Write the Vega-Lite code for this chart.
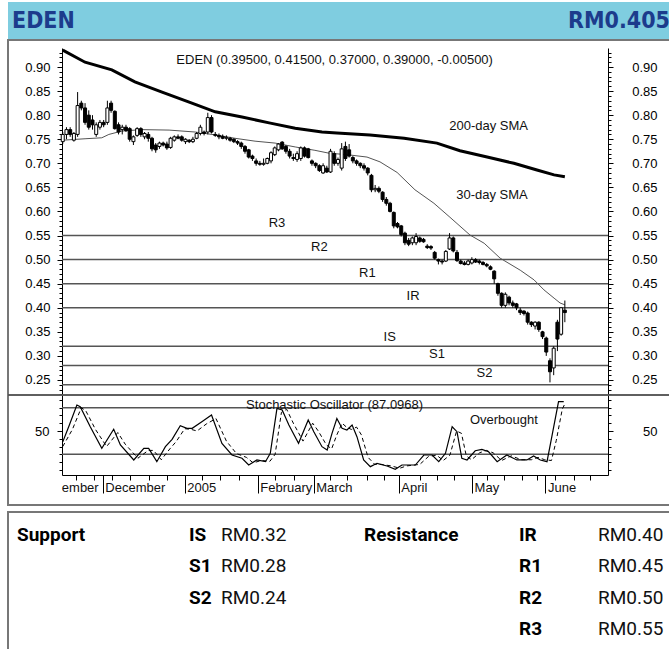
{
  "$schema": "https://vega.github.io/schema/vega-lite/v6.json",
  "padding": {"left": 6, "top": 2, "right": 0, "bottom": 0},
  "autosize": {"type": "pad"},
  "background": "white",
  "config": {"view": {"stroke": null}, "font": "Liberation Sans", "axis": {"grid": false, "title": null}},
  "datasets": {
    "header": [{"item": "stock", "label": "EDEN"}, {"item": "price", "label": "RM0.405"}],
    "levels": [
      {"side": "Support", "level": "IS", "price": "RM0.32", "value": 0.32, "rank": 0},
      {"side": "Support", "level": "S1", "price": "RM0.28", "value": 0.28, "rank": 1},
      {"side": "Support", "level": "S2", "price": "RM0.24", "value": 0.24, "rank": 2},
      {"side": "Resistance", "level": "IR", "price": "RM0.40", "value": 0.40, "rank": 0},
      {"side": "Resistance", "level": "R1", "price": "RM0.45", "value": 0.45, "rank": 1},
      {"side": "Resistance", "level": "R2", "price": "RM0.50", "value": 0.50, "rank": 2},
      {"side": "Resistance", "level": "R3", "price": "RM0.55", "value": 0.55, "rank": 3}
    ],
    "notes": [
      {"panel": "price", "note": "EDEN (0.39500, 0.41500, 0.37000, 0.39000, -0.00500)", "i": 73.1, "v": 0.9145},
      {"panel": "price", "note": "200-day SMA", "i": 114.5, "v": 0.7775},
      {"panel": "price", "note": "30-day SMA", "i": 115.4, "v": 0.635},
      {"panel": "price", "note": "R3", "i": 57.6, "v": 0.5754},
      {"panel": "price", "note": "R2", "i": 69.0, "v": 0.527},
      {"panel": "price", "note": "R1", "i": 81.9, "v": 0.4728},
      {"panel": "price", "note": "IR", "i": 94.2, "v": 0.4244},
      {"panel": "price", "note": "IS", "i": 87.9, "v": 0.340},
      {"panel": "price", "note": "S1", "i": 100.6, "v": 0.3033},
      {"panel": "price", "note": "S2", "i": 113.4, "v": 0.2639},
      {"panel": "stoch", "note": "Stochastic Oscillator (87.0968)", "i": 73.1, "v": 83.5},
      {"panel": "stoch", "note": "Overbought", "i": 118.6, "v": 64.2}
    ],
    "months": [
      {"month": "November", "start": -7.1, "end": 10.74},
      {"month": "December", "start": 10.74, "end": 32.79},
      {"month": "2005", "start": 32.79, "end": 52.42},
      {"month": "February", "start": 52.42, "end": 67.47},
      {"month": "March", "start": 67.47, "end": 90.33},
      {"month": "April", "start": 90.33, "end": 110.04},
      {"month": "May", "start": 110.04, "end": 129.75},
      {"month": "June", "start": 129.75, "end": 150}
    ],
    "stochLevels": [{"zone": "Overbought", "level": 80}, {"zone": "Oversold", "level": 20}],
    "sma200": [
      {"i": 0, "v": 0.935}, {"i": 6, "v": 0.91}, {"i": 13.2, "v": 0.894}, {"i": 19.4, "v": 0.869},
      {"i": 26.7, "v": 0.848}, {"i": 34, "v": 0.827}, {"i": 41, "v": 0.807}, {"i": 48.2, "v": 0.796},
      {"i": 55.5, "v": 0.784}, {"i": 62.5, "v": 0.773}, {"i": 69.7, "v": 0.765}, {"i": 73.7, "v": 0.763},
      {"i": 82.6, "v": 0.759}, {"i": 91.8, "v": 0.752}, {"i": 100.6, "v": 0.742}, {"i": 106.8, "v": 0.726},
      {"i": 114.1, "v": 0.713}, {"i": 121.3, "v": 0.70}, {"i": 127.5, "v": 0.686}, {"i": 132.1, "v": 0.676},
      {"i": 135, "v": 0.672}
    ],
    "sma30": [
      {"i": 0, "v": 0.748}, {"i": 6, "v": 0.751}, {"i": 10.5, "v": 0.753}, {"i": 12.4, "v": 0.76},
      {"i": 15.9, "v": 0.767}, {"i": 21.3, "v": 0.770}, {"i": 28.6, "v": 0.769}, {"i": 35.6, "v": 0.765},
      {"i": 41, "v": 0.759}, {"i": 46.3, "v": 0.752}, {"i": 51.7, "v": 0.746}, {"i": 57.1, "v": 0.742},
      {"i": 62.5, "v": 0.734}, {"i": 67.8, "v": 0.727}, {"i": 71.6, "v": 0.721}, {"i": 76.4, "v": 0.718},
      {"i": 81.8, "v": 0.713}, {"i": 85.3, "v": 0.703}, {"i": 89.9, "v": 0.681}, {"i": 94.7, "v": 0.645},
      {"i": 99.8, "v": 0.617}, {"i": 104.1, "v": 0.588}, {"i": 109.5, "v": 0.551}, {"i": 113.3, "v": 0.534},
      {"i": 117.6, "v": 0.503}, {"i": 123, "v": 0.478}, {"i": 126.7, "v": 0.458}, {"i": 129.4, "v": 0.437},
      {"i": 132.1, "v": 0.42}, {"i": 133.7, "v": 0.41}, {"i": 135, "v": 0.406}
    ],
    "candles": [
      {"i":0,"open":0.745,"high":0.765,"low":0.74,"close":0.76},
      {"i":1,"open":0.76,"high":0.775,"low":0.75,"close":0.77},
      {"i":2,"open":0.77,"high":0.775,"low":0.755,"close":0.76},
      {"i":3,"open":0.748,"high":0.765,"low":0.745,"close":0.762},
      {"i":4,"open":0.76,"high":0.848,"low":0.755,"close":0.82},
      {"i":5,"open":0.825,"high":0.83,"low":0.81,"close":0.815},
      {"i":6,"open":0.815,"high":0.825,"low":0.78,"close":0.785},
      {"i":7,"open":0.80,"high":0.81,"low":0.77,"close":0.775},
      {"i":8,"open":0.79,"high":0.80,"low":0.77,"close":0.78},
      {"i":9,"open":0.76,"high":0.785,"low":0.755,"close":0.78},
      {"i":10,"open":0.775,"high":0.79,"low":0.77,"close":0.785},
      {"i":11,"open":0.785,"high":0.79,"low":0.775,"close":0.78},
      {"i":12,"open":0.785,"high":0.83,"low":0.78,"close":0.815},
      {"i":13,"open":0.825,"high":0.83,"low":0.805,"close":0.81},
      {"i":14,"open":0.808,"high":0.81,"low":0.77,"close":0.772},
      {"i":15,"open":0.78,"high":0.785,"low":0.76,"close":0.765},
      {"i":16,"open":0.77,"high":0.78,"low":0.76,"close":0.775},
      {"i":17,"open":0.775,"high":0.78,"low":0.765,"close":0.768},
      {"i":18,"open":0.772,"high":0.775,"low":0.745,"close":0.75},
      {"i":19,"open":0.745,"high":0.758,"low":0.738,"close":0.755},
      {"i":20,"open":0.758,"high":0.775,"low":0.755,"close":0.772},
      {"i":21,"open":0.772,"high":0.775,"low":0.755,"close":0.76},
      {"i":22,"open":0.755,"high":0.765,"low":0.75,"close":0.762},
      {"i":23,"open":0.76,"high":0.765,"low":0.745,"close":0.752},
      {"i":24,"open":0.752,"high":0.755,"low":0.725,"close":0.73},
      {"i":25,"open":0.738,"high":0.742,"low":0.722,"close":0.728},
      {"i":26,"open":0.735,"high":0.745,"low":0.73,"close":0.742},
      {"i":27,"open":0.742,"high":0.745,"low":0.735,"close":0.738},
      {"i":28,"open":0.74,"high":0.745,"low":0.728,"close":0.732},
      {"i":29,"open":0.733,"high":0.755,"low":0.73,"close":0.752},
      {"i":30,"open":0.748,"high":0.758,"low":0.745,"close":0.755},
      {"i":31,"open":0.755,"high":0.76,"low":0.75,"close":0.752},
      {"i":32,"open":0.755,"high":0.758,"low":0.745,"close":0.748},
      {"i":33,"open":0.745,"high":0.752,"low":0.74,"close":0.75},
      {"i":34,"open":0.748,"high":0.75,"low":0.742,"close":0.745},
      {"i":35,"open":0.745,"high":0.755,"low":0.742,"close":0.75},
      {"i":36,"open":0.752,"high":0.765,"low":0.75,"close":0.762},
      {"i":37,"open":0.762,"high":0.78,"low":0.758,"close":0.775},
      {"i":38,"open":0.765,"high":0.768,"low":0.758,"close":0.762},
      {"i":39,"open":0.765,"high":0.805,"low":0.76,"close":0.795},
      {"i":40,"open":0.795,"high":0.80,"low":0.762,"close":0.765},
      {"i":41,"open":0.76,"high":0.765,"low":0.755,"close":0.758},
      {"i":42,"open":0.758,"high":0.762,"low":0.75,"close":0.755},
      {"i":43,"open":0.756,"high":0.76,"low":0.75,"close":0.752},
      {"i":44,"open":0.752,"high":0.758,"low":0.748,"close":0.754},
      {"i":45,"open":0.752,"high":0.755,"low":0.745,"close":0.748},
      {"i":46,"open":0.75,"high":0.752,"low":0.742,"close":0.745},
      {"i":47,"open":0.745,"high":0.748,"low":0.738,"close":0.742},
      {"i":48,"open":0.742,"high":0.745,"low":0.73,"close":0.735},
      {"i":49,"open":0.735,"high":0.738,"low":0.72,"close":0.725},
      {"i":50,"open":0.728,"high":0.73,"low":0.71,"close":0.713},
      {"i":51,"open":0.715,"high":0.718,"low":0.705,"close":0.71},
      {"i":52,"open":0.705,"high":0.71,"low":0.695,"close":0.70},
      {"i":53,"open":0.70,"high":0.705,"low":0.695,"close":0.698},
      {"i":54,"open":0.698,"high":0.71,"low":0.695,"close":0.70},
      {"i":55,"open":0.70,"high":0.712,"low":0.698,"close":0.71},
      {"i":56,"open":0.705,"high":0.725,"low":0.70,"close":0.722},
      {"i":57,"open":0.718,"high":0.735,"low":0.715,"close":0.732},
      {"i":58,"open":0.728,"high":0.742,"low":0.725,"close":0.74},
      {"i":59,"open":0.744,"high":0.746,"low":0.728,"close":0.73},
      {"i":60,"open":0.735,"high":0.738,"low":0.72,"close":0.725},
      {"i":61,"open":0.725,"high":0.73,"low":0.71,"close":0.715},
      {"i":62,"open":0.712,"high":0.72,"low":0.705,"close":0.71},
      {"i":63,"open":0.708,"high":0.725,"low":0.703,"close":0.72},
      {"i":64,"open":0.71,"high":0.735,"low":0.705,"close":0.732},
      {"i":65,"open":0.732,"high":0.735,"low":0.712,"close":0.715},
      {"i":66,"open":0.73,"high":0.732,"low":0.71,"close":0.712},
      {"i":67,"open":0.705,"high":0.708,"low":0.695,"close":0.70},
      {"i":68,"open":0.70,"high":0.702,"low":0.69,"close":0.695},
      {"i":69,"open":0.695,"high":0.698,"low":0.682,"close":0.685},
      {"i":70,"open":0.68,"high":0.70,"low":0.678,"close":0.695},
      {"i":71,"open":0.69,"high":0.695,"low":0.68,"close":0.682},
      {"i":72,"open":0.682,"high":0.73,"low":0.68,"close":0.725},
      {"i":73,"open":0.72,"high":0.725,"low":0.695,"close":0.70},
      {"i":74,"open":0.70,"high":0.712,"low":0.695,"close":0.708},
      {"i":75,"open":0.69,"high":0.742,"low":0.685,"close":0.73},
      {"i":76,"open":0.735,"high":0.745,"low":0.705,"close":0.71},
      {"i":77,"open":0.728,"high":0.74,"low":0.712,"close":0.715},
      {"i":78,"open":0.712,"high":0.715,"low":0.70,"close":0.705},
      {"i":79,"open":0.705,"high":0.708,"low":0.695,"close":0.70},
      {"i":80,"open":0.70,"high":0.702,"low":0.69,"close":0.695},
      {"i":81,"open":0.695,"high":0.70,"low":0.685,"close":0.69},
      {"i":82,"open":0.69,"high":0.692,"low":0.675,"close":0.68},
      {"i":83,"open":0.675,"high":0.678,"low":0.64,"close":0.645},
      {"i":84,"open":0.645,"high":0.655,"low":0.64,"close":0.648},
      {"i":85,"open":0.648,"high":0.652,"low":0.638,"close":0.642},
      {"i":86,"open":0.64,"high":0.642,"low":0.62,"close":0.625},
      {"i":87,"open":0.625,"high":0.63,"low":0.612,"close":0.617},
      {"i":88,"open":0.617,"high":0.62,"low":0.598,"close":0.60},
      {"i":89,"open":0.598,"high":0.60,"low":0.565,"close":0.57},
      {"i":90,"open":0.575,"high":0.578,"low":0.565,"close":0.568},
      {"i":91,"open":0.57,"high":0.572,"low":0.548,"close":0.552},
      {"i":92,"open":0.555,"high":0.558,"low":0.53,"close":0.535},
      {"i":93,"open":0.54,"high":0.545,"low":0.528,"close":0.532},
      {"i":94,"open":0.535,"high":0.548,"low":0.53,"close":0.545},
      {"i":95,"open":0.535,"high":0.555,"low":0.53,"close":0.548},
      {"i":96,"open":0.545,"high":0.548,"low":0.535,"close":0.538},
      {"i":97,"open":0.542,"high":0.545,"low":0.535,"close":0.537},
      {"i":98,"open":0.528,"high":0.532,"low":0.522,"close":0.525},
      {"i":99,"open":0.527,"high":0.53,"low":0.52,"close":0.524},
      {"i":100,"open":0.515,"high":0.518,"low":0.50,"close":0.503},
      {"i":101,"open":0.50,"high":0.502,"low":0.49,"close":0.497},
      {"i":102,"open":0.497,"high":0.50,"low":0.49,"close":0.495},
      {"i":103,"open":0.497,"high":0.52,"low":0.495,"close":0.517},
      {"i":104,"open":0.522,"high":0.555,"low":0.52,"close":0.545},
      {"i":105,"open":0.545,"high":0.548,"low":0.515,"close":0.518},
      {"i":106,"open":0.515,"high":0.52,"low":0.495,"close":0.498},
      {"i":107,"open":0.497,"high":0.50,"low":0.49,"close":0.492},
      {"i":108,"open":0.493,"high":0.497,"low":0.488,"close":0.49},
      {"i":109,"open":0.49,"high":0.50,"low":0.488,"close":0.497},
      {"i":110,"open":0.493,"high":0.505,"low":0.49,"close":0.50},
      {"i":111,"open":0.50,"high":0.503,"low":0.493,"close":0.495},
      {"i":112,"open":0.497,"high":0.50,"low":0.49,"close":0.494},
      {"i":113,"open":0.494,"high":0.497,"low":0.488,"close":0.49},
      {"i":114,"open":0.49,"high":0.493,"low":0.484,"close":0.487},
      {"i":115,"open":0.485,"high":0.488,"low":0.478,"close":0.48},
      {"i":116,"open":0.476,"high":0.478,"low":0.45,"close":0.46},
      {"i":117,"open":0.45,"high":0.452,"low":0.425,"close":0.43},
      {"i":118,"open":0.43,"high":0.432,"low":0.40,"close":0.405},
      {"i":119,"open":0.405,"high":0.432,"low":0.40,"close":0.428},
      {"i":120,"open":0.422,"high":0.425,"low":0.405,"close":0.41},
      {"i":121,"open":0.41,"high":0.415,"low":0.40,"close":0.405},
      {"i":122,"open":0.408,"high":0.41,"low":0.395,"close":0.40},
      {"i":123,"open":0.395,"high":0.40,"low":0.385,"close":0.39},
      {"i":124,"open":0.393,"high":0.395,"low":0.384,"close":0.388},
      {"i":125,"open":0.389,"high":0.392,"low":0.365,"close":0.37},
      {"i":126,"open":0.37,"high":0.372,"low":0.36,"close":0.365},
      {"i":127,"open":0.362,"high":0.372,"low":0.355,"close":0.37},
      {"i":128,"open":0.37,"high":0.372,"low":0.35,"close":0.355},
      {"i":129,"open":0.35,"high":0.352,"low":0.335,"close":0.34},
      {"i":130,"open":0.337,"high":0.34,"low":0.30,"close":0.308},
      {"i":131,"open":0.29,"high":0.295,"low":0.245,"close":0.267},
      {"i":132,"open":0.275,"high":0.32,"low":0.26,"close":0.316},
      {"i":133,"open":0.37,"high":0.375,"low":0.31,"close":0.335},
      {"i":134,"open":0.345,"high":0.40,"low":0.342,"close":0.40},
      {"i":135,"open":0.395,"high":0.415,"low":0.37,"close":0.39}
    ],
    "stochK": [
      {"i":0,"k":36},{"i":1.6,"k":55.5},{"i":3.8,"k":83.5},{"i":4.7,"k":81.3},{"i":7.4,"k":55.5},
      {"i":10.5,"k":27.7},{"i":13.7,"k":52.2},{"i":15.5,"k":32},{"i":19.1,"k":12.7},{"i":21.8,"k":27.7},
      {"i":23.1,"k":27.7},{"i":25.3,"k":10.5},{"i":27.6,"k":29.8},{"i":29.4,"k":39.3},{"i":31.6,"k":56.8},
      {"i":33.4,"k":53.5},{"i":34.8,"k":53.5},{"i":37.4,"k":61.9},{"i":40,"k":70.6},{"i":42.8,"k":34.1},
      {"i":45.5,"k":19.1},{"i":48.2,"k":14.9},{"i":50,"k":6.2},{"i":52.2,"k":12.7},{"i":54.5,"k":10.5},
      {"i":55.8,"k":21.3},{"i":57.6,"k":79.2},{"i":59,"k":77},{"i":60.8,"k":57.7},{"i":63.4,"k":34.1},
      {"i":66,"k":64.1},{"i":67.5,"k":49.1},{"i":69.7,"k":29.8},{"i":71.1,"k":25.5},{"i":72.4,"k":47},
      {"i":73.7,"k":66},{"i":75.1,"k":53.5},{"i":76.4,"k":51.3},{"i":77.8,"k":57.7},{"i":79.1,"k":42.7},
      {"i":80.9,"k":12.7},{"i":82.7,"k":4.1},{"i":84.5,"k":8.4},{"i":87.2,"k":5},{"i":89.4,"k":0.7},
      {"i":91.2,"k":6.2},{"i":93,"k":6.2},{"i":94.8,"k":6.2},{"i":97.1,"k":19.1},{"i":99.3,"k":19.1},
      {"i":101.1,"k":10.5},{"i":102.9,"k":21.3},{"i":104.7,"k":55.5},{"i":106,"k":49.1},{"i":107.3,"k":14.9},
      {"i":108.7,"k":12.7},{"i":110.9,"k":24.6},{"i":112.7,"k":26.4},{"i":114.5,"k":23.3},{"i":116.8,"k":10.5},
      {"i":119.4,"k":19.1},{"i":122.1,"k":12.7},{"i":124.8,"k":12.7},{"i":126.6,"k":17.8},{"i":128.4,"k":12.7},
      {"i":130.2,"k":10.5},{"i":131.5,"k":42.7},{"i":133.3,"k":87.7},{"i":134.7,"k":87.7}
    ],
    "stochD": [
      {"i":0,"d":30},{"i":2.6,"d":52},{"i":5.0,"d":80},{"i":6.2,"d":76},{"i":8.8,"d":52},
      {"i":11.8,"d":30},{"i":14.8,"d":48},{"i":16.8,"d":33},{"i":20.2,"d":15},{"i":23.0,"d":25},
      {"i":24.4,"d":25},{"i":26.5,"d":13},{"i":28.8,"d":27},{"i":30.6,"d":37},{"i":32.8,"d":53},
      {"i":34.6,"d":52},{"i":36.1,"d":50},{"i":38.6,"d":59},{"i":41.2,"d":66},{"i":44,"d":37},
      {"i":46.7,"d":21},{"i":49.4,"d":16},{"i":51.2,"d":9},{"i":53.4,"d":12},{"i":55.7,"d":11},
      {"i":57.1,"d":20},{"i":58.8,"d":74},{"i":60.2,"d":78},{"i":62,"d":60},{"i":64.6,"d":37},
      {"i":67.2,"d":60},{"i":68.7,"d":50},{"i":70.9,"d":32},{"i":72.3,"d":27},{"i":73.6,"d":44},
      {"i":75.1,"d":60},{"i":76.3,"d":55},{"i":77.6,"d":52},{"i":79,"d":55},{"i":80.3,"d":45},
      {"i":82.1,"d":16},{"i":83.9,"d":7},{"i":85.7,"d":7},{"i":88.4,"d":5},{"i":90.6,"d":2},
      {"i":92.4,"d":5},{"i":94.2,"d":6},{"i":96,"d":7},{"i":98.3,"d":17},{"i":100.5,"d":19},
      {"i":102.3,"d":12},{"i":104.1,"d":19},{"i":105.9,"d":50},{"i":107.2,"d":47},{"i":108.5,"d":18},
      {"i":109.9,"d":13},{"i":112.1,"d":22},{"i":113.9,"d":25},{"i":115.7,"d":22},{"i":118,"d":12},
      {"i":120.6,"d":18},{"i":123.3,"d":13},{"i":126,"d":13},{"i":127.8,"d":16},{"i":129.6,"d":13},
      {"i":131.4,"d":12},{"i":132.7,"d":38},{"i":134.3,"d":78},{"i":135,"d":85}
    ]
  },
  "spacing": 5,
  "bounds": "full",
  "vconcat": [
    {
      "spacing": 0,
      "bounds": "flush",
      "vconcat": [
        {
          "width": 664,
          "height": 38,
          "view": {"fill": "#7fcde0", "stroke": null},
          "data": {"name": "header"},
          "layer": [
            {
              "transform": [{"filter": "datum.item === 'stock'"}],
              "mark": {"type": "text", "align": "left", "baseline": "middle", "font": "Liberation Sans Narrow, DejaVu Sans Condensed, sans-serif", "fontWeight": "bold", "fontSize": 23, "color": "#1c3c8c"},
              "encoding": {
                "x": {"field": "item", "type": "nominal", "scale": {"type": "point", "domain": ["stock", "price"], "range": [4, 662], "padding": 0}, "axis": null},
                "text": {"field": "label"}
              }
            },
            {
              "transform": [{"filter": "datum.item === 'price'"}],
              "mark": {"type": "text", "align": "right", "baseline": "middle", "font": "Liberation Sans Narrow, DejaVu Sans Condensed, sans-serif", "fontWeight": "bold", "fontSize": 23, "color": "#1c3c8c"},
              "encoding": {
                "x": {"field": "item", "type": "nominal", "scale": {"type": "point", "domain": ["stock", "price"], "range": [4, 662], "padding": 0}, "axis": null},
                "text": {"field": "label"}
              }
            }
          ]
        },
        {
          "width": 664,
          "height": 465,
          "view": {"stroke": "#777777", "strokeWidth": 2},
          "resolve": {"scale": {"y": "independent"}, "axis": {"x": "independent", "y": "independent"}},
          "layer": [
            {
              "resolve": {"axis": {"x": "independent", "y": "independent"}},
              "layer": [
                {
                  "data": {"name": "levels"},
                  "mark": {"type": "rule", "color": "#555555", "strokeWidth": 1.5},
                  "encoding": {
                    "x": {"datum": -0.2, "type": "quantitative", "scale": {"domain": [-0.2, 146.6], "range": [54, 600], "padding": 0, "nice": false, "zero": false}, "axis": null},
                    "x2": {"datum": 146.6},
                    "y": {"field": "value", "type": "quantitative", "scale": {"domain": [0.2188, 0.9395], "range": [355, 8], "nice": false, "zero": false},
                      "axis": {"orient": "left", "offset": -54, "values": [0.25,0.3,0.35,0.4,0.45,0.5,0.55,0.6,0.65,0.7,0.75,0.8,0.85,0.9], "format": ".2f", "tickSize": 5, "tickColor": "#000", "domainColor": "#000", "labelColor": "#000", "labelFontSize": 13, "labelPadding": 7, "labelOverlap": false, "title": null}}
                  }
                },
                {
                  "data": {"name": "sma200"},
                  "mark": {"type": "line", "color": "#000", "strokeWidth": 3},
                  "encoding": {
                    "x": {"field": "i", "type": "quantitative", "scale": {"domain": [-0.2, 146.6], "range": [54, 600], "padding": 0, "nice": false, "zero": false}, "axis": null},
                    "y": {"field": "v", "type": "quantitative", "scale": {"domain": [0.2188, 0.9395], "range": [355, 8], "nice": false, "zero": false},
                      "axis": {"orient": "right", "offset": -64, "values": [0.25,0.3,0.35,0.4,0.45,0.5,0.55,0.6,0.65,0.7,0.75,0.8,0.85,0.9], "format": ".2f", "tickSize": 5, "tickColor": "#000", "domainColor": "#000", "labelColor": "#000", "labelFontSize": 13, "labelAlign": "right", "labelPadding": 44, "labelOverlap": false, "title": null}}
                  }
                },
                {
                  "data": {"name": "sma30"},
                  "mark": {"type": "line", "color": "#555555", "strokeWidth": 1},
                  "encoding": {
                    "x": {"field": "i", "type": "quantitative", "scale": {"domain": [-0.2, 146.6], "range": [54, 600], "padding": 0, "nice": false, "zero": false}, "axis": null},
                    "y": {"field": "v", "type": "quantitative", "scale": {"domain": [0.2188, 0.9395], "range": [355, 8], "nice": false, "zero": false},
                      "axis": {"orient": "left", "offset": -54, "values": [0.22,0.23,0.24,0.25,0.26,0.27,0.28,0.29,0.3,0.31,0.32,0.33,0.34,0.35,0.36,0.37,0.38,0.39,0.4,0.41,0.42,0.43,0.44,0.45,0.46,0.47,0.48,0.49,0.5,0.51,0.52,0.53,0.54,0.55,0.56,0.57,0.58,0.59,0.6,0.61,0.62,0.63,0.64,0.65,0.66,0.67,0.68,0.69,0.7,0.71,0.72,0.73,0.74,0.75,0.76,0.77,0.78,0.79,0.8,0.81,0.82,0.83,0.84,0.85,0.86,0.87,0.88,0.89,0.9,0.91,0.92,0.93], "labels": false, "domain": false, "tickSize": 3, "tickColor": "#000", "title": null}}
                  }
                },
                {
                  "data": {"name": "candles"},
                  "mark": {"type": "rule", "color": "#000", "strokeWidth": 1},
                  "encoding": {
                    "x": {"field": "i", "type": "quantitative", "scale": {"domain": [-0.2, 146.6], "range": [54, 600], "padding": 0, "nice": false, "zero": false}, "axis": null},
                    "y": {"field": "low", "type": "quantitative", "scale": {"domain": [0.2188, 0.9395], "range": [355, 8], "nice": false, "zero": false},
                      "axis": {"orient": "right", "offset": -64, "values": [0.22,0.23,0.24,0.25,0.26,0.27,0.28,0.29,0.3,0.31,0.32,0.33,0.34,0.35,0.36,0.37,0.38,0.39,0.4,0.41,0.42,0.43,0.44,0.45,0.46,0.47,0.48,0.49,0.5,0.51,0.52,0.53,0.54,0.55,0.56,0.57,0.58,0.59,0.6,0.61,0.62,0.63,0.64,0.65,0.66,0.67,0.68,0.69,0.7,0.71,0.72,0.73,0.74,0.75,0.76,0.77,0.78,0.79,0.8,0.81,0.82,0.83,0.84,0.85,0.86,0.87,0.88,0.89,0.9,0.91,0.92,0.93], "labels": false, "domain": false, "tickSize": 3, "tickColor": "#000", "title": null}},
                    "y2": {"field": "high"}
                  }
                },
                {
                  "data": {"name": "candles"},
                  "mark": {"type": "bar", "width": 3, "stroke": "#000", "strokeWidth": 1},
                  "encoding": {
                    "x": {"field": "i", "type": "quantitative", "scale": {"domain": [-0.2, 146.6], "range": [54, 600], "padding": 0, "nice": false, "zero": false}, "axis": null},
                    "y": {"field": "open", "type": "quantitative", "scale": {"domain": [0.2188, 0.9395], "range": [355, 8], "nice": false, "zero": false}, "axis": null},
                    "y2": {"field": "close"},
                    "fill": {"condition": {"test": "datum.close < datum.open", "value": "#000"}, "value": "#fff"}
                  }
                },
                {
                  "data": {"name": "notes"},
                  "transform": [{"filter": "datum.panel === 'price'"}],
                  "mark": {"type": "text", "align": "center", "baseline": "middle", "fontSize": 13, "color": "#111"},
                  "encoding": {
                    "x": {"field": "i", "type": "quantitative", "scale": {"domain": [-0.2, 146.6], "range": [54, 600], "padding": 0, "nice": false, "zero": false}, "axis": null},
                    "y": {"field": "v", "type": "quantitative", "scale": {"domain": [0.2188, 0.9395], "range": [355, 8], "nice": false, "zero": false}, "axis": null},
                    "text": {"field": "note"}
                  }
                }
              ]
            },
            {
              "resolve": {"axis": {"x": "independent", "y": "independent"}},
              "layer": [
                {
                  "data": {"name": "stochLevels"},
                  "mark": {"type": "rule", "color": "#555555", "strokeWidth": 1.5},
                  "encoding": {
                    "y": {"datum": 96.35, "type": "quantitative", "scale": {"domain": [-6.65, 96.35], "range": [435, 355], "nice": false, "zero": false}, "axis": null}
                  }
                },
                {
                  "data": {"name": "stochLevels"},
                  "mark": {"type": "rule", "color": "#555555", "strokeWidth": 1.5},
                  "encoding": {
                    "x": {"datum": -0.2, "type": "quantitative", "scale": {"domain": [-0.2, 146.6], "range": [54, 600], "padding": 0, "nice": false, "zero": false}, "axis": null},
                    "x2": {"datum": 146.6},
                    "y": {"field": "level", "type": "quantitative", "scale": {"domain": [-6.65, 96.35], "range": [435, 355], "nice": false, "zero": false},
                      "axis": {"orient": "left", "offset": -54, "values": [50], "tickSize": 5, "tickColor": "#000", "domainColor": "#000", "labelColor": "#000", "labelFontSize": 13, "labelPadding": 8, "title": null}}
                  }
                },
                {
                  "data": {"name": "stochK"},
                  "mark": {"type": "line", "color": "#000", "strokeWidth": 1.2},
                  "encoding": {
                    "x": {"field": "i", "type": "quantitative", "scale": {"domain": [-0.2, 146.6], "range": [54, 600], "padding": 0, "nice": false, "zero": false},
                      "axis": {"orient": "bottom", "offset": -30, "values": [3.56,8.32,13.24,18.16,23.1,28.03,37.44,42.36,47.31,57.15,62.1,71.86,76.43,81.81,86.3,96.14,100.63,105.12,114.07,118.56,123.48,127.51,132.43,137.38,141.84], "labels": false, "tickSize": 5, "tickColor": "#000", "domainColor": "#000", "title": null}},
                    "y": {"field": "k", "type": "quantitative", "scale": {"domain": [-6.65, 96.35], "range": [435, 355], "nice": false, "zero": false},
                      "axis": {"orient": "right", "offset": -64, "values": [50], "tickSize": 5, "tickColor": "#000", "domainColor": "#000", "labelColor": "#000", "labelFontSize": 13, "labelAlign": "right", "labelPadding": 44, "title": null}}
                  }
                },
                {
                  "data": {"name": "stochD"},
                  "mark": {"type": "line", "color": "#000", "strokeWidth": 1, "strokeDash": [4, 3]},
                  "encoding": {
                    "x": {"field": "i", "type": "quantitative", "scale": {"domain": [-0.2, 146.6], "range": [54, 600], "padding": 0, "nice": false, "zero": false},
                      "axis": {"orient": "bottom", "offset": -30, "values": [10.74, 32.79, 52.42, 67.47, 90.33, 110.04, 129.75], "labels": false, "domain": false, "tickSize": 18, "tickColor": "#000", "title": null}},
                    "y": {"field": "d", "type": "quantitative", "scale": {"domain": [-6.65, 96.35], "range": [435, 355], "nice": false, "zero": false},
                      "axis": {"orient": "left", "offset": -54, "values": [0, 10, 20, 30, 40, 60, 70, 80, 90], "labels": false, "domain": false, "tickSize": 3, "tickColor": "#000", "title": null}}
                  }
                },
                {
                  "data": {"name": "notes"},
                  "transform": [{"filter": "datum.panel === 'stoch'"}],
                  "mark": {"type": "text", "align": "center", "baseline": "middle", "fontSize": 13, "color": "#111"},
                  "encoding": {
                    "x": {"field": "i", "type": "quantitative", "scale": {"domain": [-0.2, 146.6], "range": [54, 600], "padding": 0, "nice": false, "zero": false}, "axis": null},
                    "y": {"field": "v", "type": "quantitative", "scale": {"domain": [-6.65, 96.35], "range": [435, 355], "nice": false, "zero": false},
                      "axis": {"orient": "right", "offset": -64, "values": [0, 10, 20, 30, 40, 60, 70, 80, 90], "labels": false, "domain": false, "tickSize": 3, "tickColor": "#000", "title": null}},
                    "text": {"field": "note"}
                  }
                },
                {
                  "data": {"name": "months"},
                  "transform": [{"filter": "datum.month !== 'November'"}],
                  "mark": {"type": "text", "align": "left", "baseline": "middle", "dx": 2.6, "fontSize": 13, "color": "#111"},
                  "encoding": {
                    "x": {"field": "start", "type": "quantitative", "scale": {"domain": [-0.2, 146.6], "range": [54, 600], "padding": 0, "nice": false, "zero": false}, "axis": null},
                    "y": {"datum": -23.39, "type": "quantitative", "scale": {"domain": [-6.65, 96.35], "range": [435, 355], "nice": false, "zero": false}, "axis": null},
                    "text": {"field": "month"}
                  }
                },
                {
                  "data": {"name": "months"},
                  "transform": [{"filter": "datum.month === 'November'"}],
                  "mark": {"type": "text", "align": "right", "baseline": "middle", "dx": -4, "dir": "rtl", "limit": 42, "ellipsis": " ", "fontSize": 13, "color": "#111"},
                  "encoding": {
                    "x": {"field": "end", "type": "quantitative", "scale": {"domain": [-0.2, 146.6], "range": [54, 600], "padding": 0, "nice": false, "zero": false}, "axis": null},
                    "y": {"datum": -23.39, "type": "quantitative", "scale": {"domain": [-6.65, 96.35], "range": [435, 355], "nice": false, "zero": false}, "axis": null},
                    "text": {"field": "month"}
                  }
                }
              ]
            }
          ]
        }
      ]
    },
    {
      "width": 664,
      "height": 145,
      "view": {"stroke": "#777777", "strokeWidth": 2},
      "data": {"name": "levels"},
      "resolve": {"scale": {"x": "independent"}},
      "layer": [
        {
          "transform": [{"filter": "datum.rank === 0"}],
          "mark": {"type": "text", "align": "left", "baseline": "middle", "font": "Roboto", "fontWeight": "bold", "fontSize": 19, "color": "#000"},
          "encoding": {
            "x": {"field": "side", "type": "nominal", "scale": {"type": "point", "domain": ["Support", "Resistance"], "range": [9, 356], "padding": 0}, "axis": null},
            "y": {"field": "rank", "type": "quantitative", "scale": {"domain": [0, 3], "range": [23, 117], "nice": false, "zero": false}, "axis": null},
            "text": {"field": "side"}
          }
        },
        {
          "mark": {"type": "text", "align": "left", "baseline": "middle", "font": "Roboto", "fontWeight": "bold", "fontSize": 19, "color": "#000"},
          "encoding": {
            "x": {"field": "side", "type": "nominal", "scale": {"type": "point", "domain": ["Support", "Resistance"], "range": [181, 511], "padding": 0}, "axis": null},
            "y": {"field": "rank", "type": "quantitative", "scale": {"domain": [0, 3], "range": [23, 117], "nice": false, "zero": false}, "axis": null},
            "text": {"field": "level"}
          }
        },
        {
          "mark": {"type": "text", "align": "left", "baseline": "middle", "font": "Roboto", "fontSize": 19, "color": "#111"},
          "encoding": {
            "x": {"field": "side", "type": "nominal", "scale": {"type": "point", "domain": ["Support", "Resistance"], "range": [213, 590], "padding": 0}, "axis": null},
            "y": {"field": "rank", "type": "quantitative", "scale": {"domain": [0, 3], "range": [23, 117], "nice": false, "zero": false}, "axis": null},
            "text": {"field": "price"}
          }
        }
      ]
    }
  ]
}
